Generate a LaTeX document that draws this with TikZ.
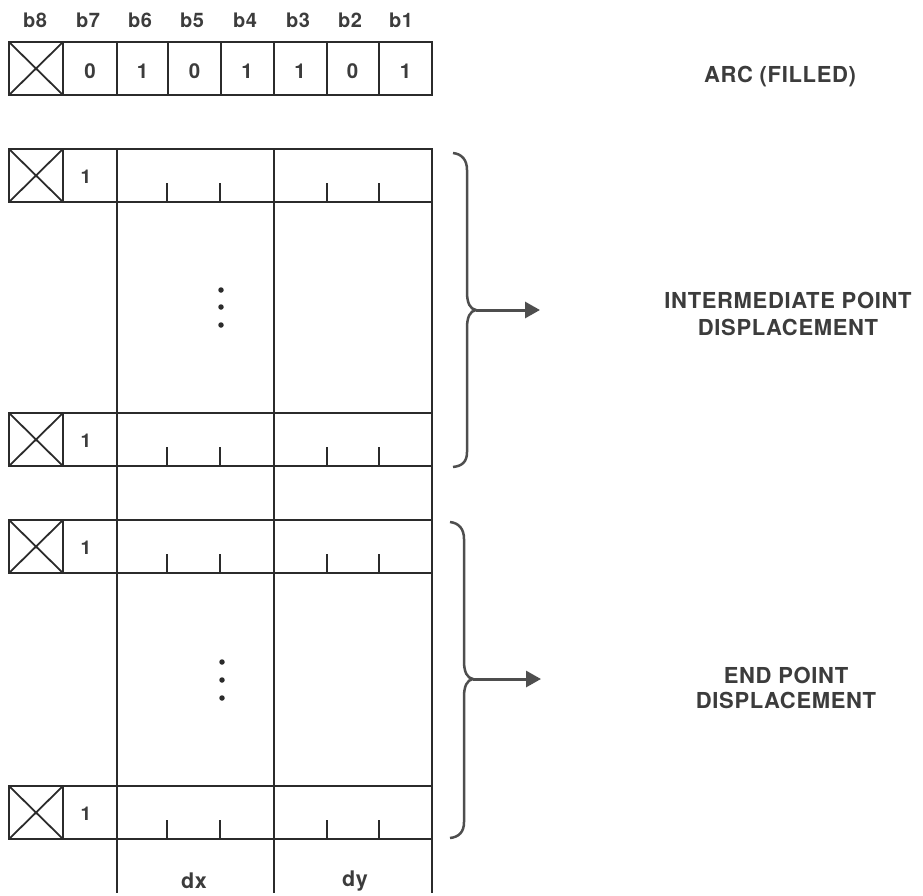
\documentclass[tikz,border=0pt]{standalone}
\usepackage{fontspec}
\setmainfont{TeX Gyre Heros}
\usetikzlibrary{arrows.meta}
\definecolor{ink}{HTML}{2B2B2B}
\definecolor{txt}{HTML}{3C3C3C}
\definecolor{brc}{HTML}{4E4E4E}
\begin{document}
\begin{tikzpicture}[x=1pt,y=-1pt,
  grid/.style={draw=ink,line width=2pt,line cap=rect},
  tick/.style={draw=ink,line width=2pt},
  xbox/.style={draw=ink,line width=1.8pt},
  hdr/.style={anchor=base,inner sep=0pt,text=txt,font=\bfseries\fontsize{20}{20}\selectfont\addfontfeature{LetterSpace=3}},
  dig/.style={anchor=base,inner sep=0pt,text=txt,font=\bfseries\fontsize{20.5}{20.5}\selectfont},
  one/.style={anchor=base,inner sep=0pt,text=txt,font=\bfseries\fontsize{19}{19}\selectfont},
  lbl/.style={anchor=base,inner sep=0pt,text=txt,font=\bfseries\fontsize{22}{22}\selectfont\addfontfeature{LetterSpace=3}},
  dlbl/.style={anchor=base,inner sep=0pt,text=txt,font=\bfseries\fontsize{21.5}{21.5}\selectfont\addfontfeature{LetterSpace=3}},
  brace/.style={draw=brc,line width=2.5pt},
  arr/.style={draw=brc,line width=3pt,-{Triangle[length=15pt,width=16pt]}},
  dot/.style={fill=ink,circle,inner sep=0pt,minimum size=5.5pt}
]
\useasboundingbox (0,0) rectangle (923,895);

% header labels
\foreach \x/\n in {35/b8,88/b7,140/b6,192/b5,245/b4,298/b3,350/b2,401/b1}
  \node[hdr] (h\n) at (\x,27) {\n};

% top row
\draw[grid] (9,42) rectangle (432,95);
\foreach \x in {63,117,168,221,274,327,379}
  \draw[grid] (\x,42) -- (\x,95);
\draw[xbox] (9,42) -- (63,95) (9,95) -- (63,42);
\foreach \x/\d/\i in {90/0/7,142.5/1/6,194.5/0/5,247/1/4,300/1/3,352.5/0/2,405.5/1/1}
  \node[dig] (d\i) at (\x,78) {\d};

% long verticals
\foreach \x in {117,274,432}
  \draw[grid] (\x,149) -- (\x,892);

% rows
\foreach \t/\n in {149/r1,413/r2,520/r3,786/r4}{
  \draw[grid] (9,\t) rectangle (432,{\t+53});
  \draw[grid] (63,\t) -- (63,{\t+53});
  \draw[xbox] (9,\t) -- (63,{\t+53}) (9,{\t+53}) -- (63,\t);
  \node[one] (\n) at (86,{\t+34}) {1};
  \foreach \x in {167,220,327,379}
    \draw[tick] (\x,{\t+53}) -- (\x,{\t+34});
}

% dots
\foreach \y/\i in {290/1,307/2,325/3}
  \node[dot] (pa\i) at (221,\y) {};
\foreach \y/\i in {662/1,680/2,698/3}
  \node[dot] (pb\i) at (222,\y) {};

% bottom labels
\node[dlbl] (dx) at (194,888) {dx};
\node[dlbl] (dy) at (355,886) {dy};

% braces
\draw[brace] (453,153) .. controls (462,154) and (467,160) .. (467,170) -- (467,292)
  .. controls (467,303) and (470,309) .. (476,310)
  .. controls (470,311) and (467,317) .. (467,328) -- (467,452)
  .. controls (467,462) and (462,466) .. (453,467);
\draw[brace] (450,522) .. controls (459,523) and (464,529) .. (464,539) -- (464,661)
  .. controls (464,672) and (467,678) .. (473,679)
  .. controls (467,680) and (464,686) .. (464,697) -- (464,822)
  .. controls (464,832) and (459,837) .. (450,838);
\coordinate (t1) at (476,310);
\coordinate (e1) at (540,310);
\coordinate (t2) at (473,679);
\coordinate (e2) at (541,679);
\draw[arr] (t1) -- (e1);
\draw[arr] (t2) -- (e2);

% right labels
\node[lbl] (arc) at (780,82) {ARC (FILLED)};
\node[lbl] (ip1) at (788,308) {INTERMEDIATE POINT};
\node[lbl] (ip2) at (788,335) {DISPLACEMENT};
\node[lbl] (ep1) at (786,683) {END POINT};
\node[lbl] (ep2) at (786,708) {DISPLACEMENT};
\end{tikzpicture}
\end{document}
